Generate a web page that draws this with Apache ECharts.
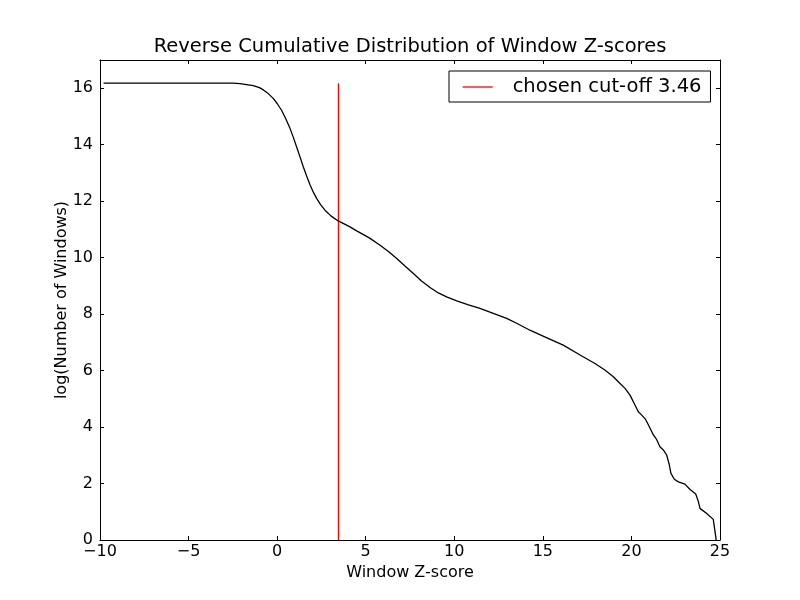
<!DOCTYPE html>
<html>
<head>
<meta charset="utf-8">
<script src="https://cdn.jsdelivr.net/npm/echarts@6/dist/echarts.min.js"></script>
<style>
html,body{margin:0;padding:0;background:#fff;}
#chart{width:800px;height:600px;}
</style>
</head>
<body>
<div id="chart"></div>
<script>
const titleText = 'Reverse Cumulative Distribution of Window Z-scores';
const xLabel = 'Window Z-score';
const yLabel = 'log(Number of Windows)';
const cutoffName = 'chosen cut-off 3.46';
const cutoff = 3.46;
const cutoffTop = 16.18;

const zScores = [-9.8, -6, -3, -2.5, -2.1, -1.35, -1.0, -0.78, -0.5, -0.22, 0.0, 0.25, 0.5, 0.73, 0.92, 1.10, 1.30, 1.48, 1.67, 1.86, 2.05, 2.23, 2.45, 2.70, 3.05, 3.45, 4.11, 4.49, 5.2, 5.81, 6.3, 6.75, 7.2, 7.69, 8.15, 8.63, 9.1, 9.6, 10.14, 10.8, 11.45, 12.2, 12.96, 13.6, 14.27, 15.2, 16.15, 17.1, 17.94, 18.5, 18.98, 19.3, 19.64, 19.92, 20.20, 20.39, 20.54, 20.80, 20.99, 21.24, 21.42, 21.61, 21.80, 21.99, 22.12, 22.23, 22.42, 22.65, 23.02, 23.31, 23.63, 23.78, 23.87, 24.25, 24.62, 24.76, 24.78];
const logCounts = [16.18, 16.18, 16.18, 16.18, 16.16, 16.09, 16.02, 15.94, 15.81, 15.64, 15.46, 15.22, 14.9, 14.57, 14.25, 13.92, 13.55, 13.21, 12.88, 12.57, 12.31, 12.10, 11.88, 11.68, 11.47, 11.30, 11.09, 10.95, 10.70, 10.44, 10.21, 9.97, 9.71, 9.44, 9.17, 8.94, 8.75, 8.60, 8.47, 8.33, 8.20, 8.03, 7.85, 7.65, 7.43, 7.17, 6.90, 6.55, 6.25, 6.02, 5.78, 5.58, 5.37, 5.13, 4.78, 4.54, 4.45, 4.27, 4.04, 3.72, 3.56, 3.30, 3.19, 3.01, 2.71, 2.36, 2.15, 2.06, 1.98, 1.79, 1.63, 1.36, 1.12, 0.94, 0.73, 0.12, 0.0];

const xTicks = {min: -10, max: 25, interval: 5};
const yTicks = {min: 0, max: 17, interval: 2};

const font = 'DejaVu Sans';
const curve = zScores.map((x, i) => [x, logCounts[i]]);

const chart = echarts.init(document.getElementById('chart'), null, {renderer: 'canvas'});
const fmt = v => (v < 0 ? '\u2212' + Math.abs(v) : String(v));
const baseAxis = {
  axisLine: {show: true, onZero: false, lineStyle: {color: '#000', width: 1}},
  axisTick: {show: true, inside: true, length: 4, lineStyle: {color: '#000', width: 1}},
  splitLine: {show: false}
};
chart.setOption({
  animation: false,
  backgroundColor: '#fff',
  title: {
    text: titleText, left: 410, top: 37, padding: 0, textAlign: 'center',
    textStyle: {fontFamily: font, fontSize: 19.5, fontWeight: 'normal', color: '#000'}
  },
  grid: {left: 100, top: 60, width: 620, height: 480, containLabel: false},
  legend: {
    data: [cutoffName], left: 449, top: 71,
    borderColor: '#000', borderWidth: 1, borderRadius: 0,
    padding: [6, 9, 5, 13], itemWidth: 30, itemHeight: 14,
    itemStyle: {opacity: 0},
    lineStyle: {color: '#ff0000', width: 1.3},
    textStyle: {fontFamily: font, fontSize: 19.5, color: '#000', padding: [0, 0, 0, 15]}
  },
  xAxis: [
    Object.assign({}, baseAxis, {
      type: 'value', position: 'bottom', min: xTicks.min, max: xTicks.max, interval: xTicks.interval,
      name: xLabel, nameLocation: 'middle', nameGap: 25, nameMoveOverlap: false,
      nameTextStyle: {fontFamily: font, fontSize: 16, color: '#000'},
      axisLabel: {fontFamily: font, fontSize: 16, color: '#000', margin: 4, formatter: fmt}
    }),
    Object.assign({}, baseAxis, {
      type: 'value', position: 'top', min: xTicks.min, max: xTicks.max, interval: xTicks.interval,
      axisLabel: {show: false}
    })
  ],
  yAxis: [
    Object.assign({}, baseAxis, {
      type: 'value', position: 'left', min: yTicks.min, max: yTicks.max, interval: yTicks.interval,
      name: yLabel, nameLocation: 'middle', nameGap: 30, nameMoveOverlap: false,
      nameTextStyle: {fontFamily: font, fontSize: 16, color: '#000'},
      axisLabel: {fontFamily: font, fontSize: 16, color: '#000', margin: 7, showMaxLabel: false, formatter: fmt}
    }),
    Object.assign({}, baseAxis, {
      type: 'value', position: 'right', min: yTicks.min, max: yTicks.max, interval: yTicks.interval,
      axisLabel: {show: false}
    })
  ],
  series: [
    {
      type: 'line', name: 'curve', data: curve, showSymbol: false, symbol: 'none',
      lineStyle: {color: '#000', width: 1.3}, itemStyle: {color: '#000'}, z: 3
    },
    {
      type: 'line', name: cutoffName, data: [[cutoff, 0], [cutoff, cutoffTop]], showSymbol: false, symbol: 'none',
      lineStyle: {color: '#ff0000', width: 1.3}, itemStyle: {color: '#ff0000'}, z: 2
    }
  ]
});
</script>
</body>
</html>
